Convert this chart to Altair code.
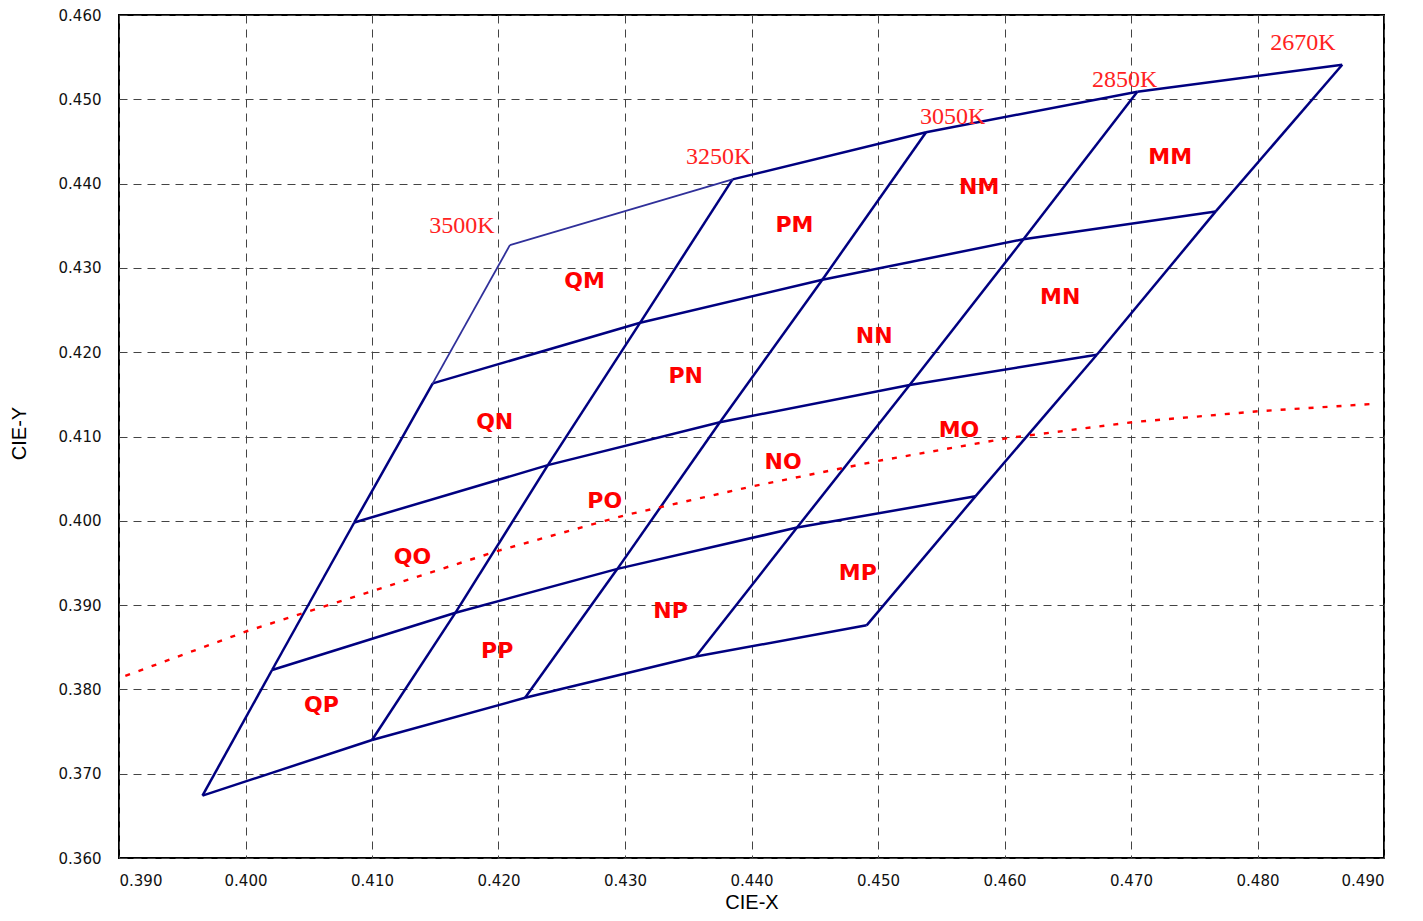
import altair as alt
import pandas as pd

# ---------------- data ----------------
cct_names = ["3500K", "3250K", "3050K", "2850K", "2670K"]

# corner points along each CCT line, from bottom (P) boundary to top (M) boundary
x_3500 = [0.3966, 0.4021, 0.4086, 0.4148, 0.4209]
y_3500 = [0.3674, 0.3823, 0.3998, 0.4163, 0.4327]
x_3250 = [0.4100, 0.4166, 0.4239, 0.4312, 0.4385]
y_3250 = [0.3740, 0.3891, 0.4066, 0.4235, 0.4405]
x_3050 = [0.4221, 0.4294, 0.4375, 0.4456, 0.4538]
y_3050 = [0.3790, 0.3943, 0.4117, 0.4286, 0.4461]
x_2850 = [0.4356, 0.4436, 0.4525, 0.4615, 0.4705]
y_2850 = [0.3839, 0.3992, 0.4161, 0.4334, 0.4509]
x_2670 = [0.4491, 0.4577, 0.4673, 0.4767, 0.4867]
y_2670 = [0.3876, 0.4029, 0.4197, 0.4367, 0.4541]

# black body locus (red dotted)
locus_x = [0.3905, 0.4001, 0.4101, 0.4201, 0.4301, 0.4401, 0.4500, 0.4602, 0.4701, 0.4801, 0.4895]
locus_y = [0.3816, 0.3869, 0.3917, 0.3965, 0.4007, 0.4041, 0.4071, 0.4098, 0.4117, 0.4130, 0.4139]

# CCT labels
cct_label_x = [0.4171, 0.4374, 0.4559, 0.4695, 0.4836]
cct_label_y = [0.4350, 0.4432, 0.4479, 0.4523, 0.4567]

# bin labels
bin_names = ["QM", "PM", "NM", "MM", "QN", "PN", "NN", "MN",
             "QO", "PO", "NO", "MO", "QP", "PP", "NP", "MP"]
bin_x = [0.4268, 0.4434, 0.4580, 0.4731, 0.4197, 0.4348, 0.4497, 0.4644,
         0.4132, 0.4284, 0.4425, 0.4564, 0.4060, 0.4199, 0.4336, 0.4484]
bin_y = [0.4285, 0.4351, 0.4396, 0.4431, 0.4117, 0.4172, 0.4219, 0.4266,
         0.3957, 0.4023, 0.4070, 0.4108, 0.3782, 0.3846, 0.3893, 0.3938]

x_ticks = [0.39, 0.40, 0.41, 0.42, 0.43, 0.44, 0.45, 0.46, 0.47, 0.48, 0.49]
y_ticks = [0.36, 0.37, 0.38, 0.39, 0.40, 0.41, 0.42, 0.43, 0.44, 0.45, 0.46]

# ---------------- build tables ----------------
lines_x = [x_3500, x_3250, x_3050, x_2850, x_2670]
lines_y = [y_3500, y_3250, y_3050, y_2850, y_2670]

segs = []
# along CCT lines
for j in range(5):
    for i in range(4):
        faint = (j == 0 and i == 3)
        segs.append(dict(x=lines_x[j][i], y=lines_y[j][i],
                         x2=lines_x[j][i + 1], y2=lines_y[j][i + 1],
                         kind="faint" if faint else "main"))
# across boundaries (duv rows)
for i in range(5):
    for j in range(4):
        faint = (i == 4 and j == 0)
        segs.append(dict(x=lines_x[j][i], y=lines_y[j][i],
                         x2=lines_x[j + 1][i], y2=lines_y[j + 1][i],
                         kind="faint" if faint else "main"))
seg_df = pd.DataFrame(segs)

locus_df = pd.DataFrame({"x": locus_x, "y": locus_y, "i": list(range(len(locus_x)))})
cct_df = pd.DataFrame({"x": cct_label_x, "y": cct_label_y, "t": cct_names})
bin_df = pd.DataFrame({"x": bin_x, "y": bin_y, "t": bin_names})

xs = alt.Scale(domain=[0.39, 0.49], nice=False, zero=False)
ys = alt.Scale(domain=[0.36, 0.46], nice=False, zero=False)

x_axis = alt.Axis(values=x_ticks, format=".3f", title="CIE-X", grid=True,
                  labelPadding=15, titleY=44, titleBaseline="middle")
y_axis = alt.Axis(values=y_ticks, format=".3f", title="CIE-Y", grid=True,
                  labelPadding=18, titleX=-90, titleY=418, titleAngle=-90,
                  titleAlign="center", titleBaseline="bottom")

main = alt.Chart(seg_df).transform_filter(alt.datum.kind == "main").mark_rule(
    color="#000080", strokeWidth=2.5
).encode(
    x=alt.X("x:Q", scale=xs, axis=x_axis),
    y=alt.Y("y:Q", scale=ys, axis=y_axis),
    x2="x2:Q", y2="y2:Q",
)

faint = alt.Chart(seg_df).transform_filter(alt.datum.kind == "faint").mark_rule(
    color="#30309a", strokeWidth=1.8
).encode(x=alt.X("x:Q", scale=xs), y=alt.Y("y:Q", scale=ys), x2="x2:Q", y2="y2:Q")

locus = alt.Chart(locus_df).mark_line(
    color="#ff0000", strokeWidth=2.4, strokeDash=[5, 9]
).encode(x=alt.X("x:Q", scale=xs), y=alt.Y("y:Q", scale=ys), order="i:Q")

cct_text = alt.Chart(cct_df).mark_text(
    font="Liberation Serif", fontSize=24, color="#ff2222", align="center", baseline="middle"
).encode(x=alt.X("x:Q", scale=xs), y=alt.Y("y:Q", scale=ys), text="t:N")

bin_text = alt.Chart(bin_df).mark_text(
    font="DejaVu Sans", fontSize=22, fontWeight="bold", color="#ff0000",
    align="center", baseline="middle"
).encode(x=alt.X("x:Q", scale=xs), y=alt.Y("y:Q", scale=ys), text="t:N")

chart = alt.layer(main, faint, locus, cct_text, bin_text).properties(
    width=1265, height=843,
    padding={"left": 111, "top": 7, "right": 20, "bottom": 55},
    autosize=alt.AutoSizeParams(type="none"),
).configure_view(
    stroke="black", strokeWidth=2
).configure_axis(
    gridColor="#444444", gridDash=[8, 6], gridWidth=1, gridOpacity=1,
    domain=False, ticks=False, tickSize=0,
    labelFont="DejaVu Sans", labelFontSize=15, labelColor="#111111",
    titleFont="Liberation Sans", titleFontSize=20, titleFontWeight="normal",
    titleColor="#000000",
)

chart.save("out.html", embed_options={"renderer": "svg", "actions": False})
